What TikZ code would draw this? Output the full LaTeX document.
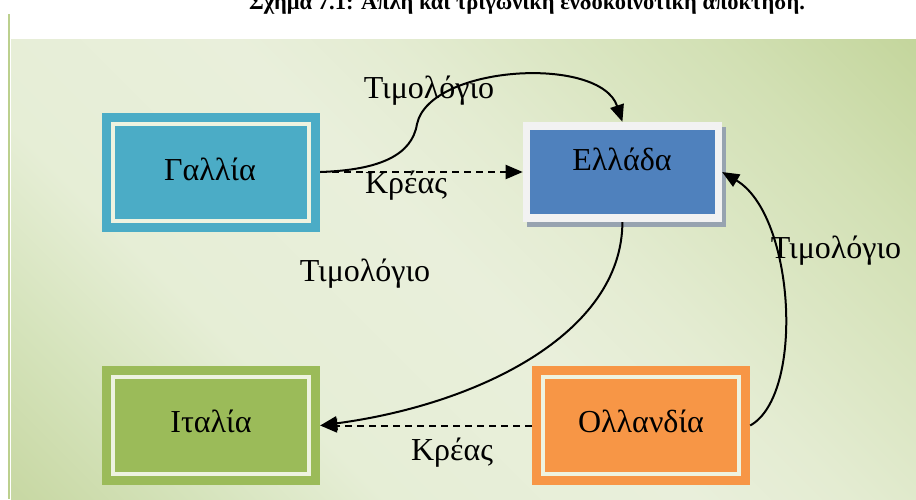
\documentclass[tikz,border=0pt]{standalone}
\usepackage{fontspec}
\setmainfont{Liberation Serif}
\usetikzlibrary{arrows.meta}
\definecolor{aquafill}{HTML}{4BACC6}
\definecolor{greenfill}{HTML}{9BBB59}
\definecolor{orangefill}{HTML}{F79646}
\definecolor{bluefill}{HTML}{4F81BD}
\definecolor{framewhite}{HTML}{F2F2F2}
\definecolor{innerline}{HTML}{EEF3E0}
\definecolor{shadowgray}{HTML}{97A3B0}
\definecolor{bga}{HTML}{C8D8A4}
\definecolor{bgb}{HTML}{D5E3BB}
\definecolor{bgc}{HTML}{E6EED6}
\definecolor{bgd}{HTML}{E9EFDB}
\definecolor{bge}{HTML}{E4ECD2}
\definecolor{bgf}{HTML}{D2E0B4}
\definecolor{bgg}{HTML}{C3D59B}
\definecolor{leftline}{HTML}{BCD08E}
\pgfdeclarehorizontalshading{bgshade}{100bp}{color(0bp)=(bga); color(15bp)=(bga); color(24bp)=(bgb); color(34bp)=(bgc); color(50bp)=(bgd); color(58bp)=(bge); color(75bp)=(bgf); color(86bp)=(bgg); color(100bp)=(bgg)}
\begin{document}
\begin{tikzpicture}[x=1pt,y=-1pt,
  country/.style={fill=#1, draw=none, minimum width=218pt, minimum height=119pt, inner sep=0pt,
    path picture={\draw[line width=4pt, innerline]
      ([xshift=11pt,yshift=-11pt]path picture bounding box.north west) rectangle
      ([xshift=-11pt,yshift=11pt]path picture bounding box.south east);}},
  framed/.style={fill=framewhite, draw=none, minimum width=199pt, minimum height=100pt, inner sep=0pt,
    preaction={fill=shadowgray, transform canvas={xshift=4pt,yshift=-5pt}},
    path picture={\fill[bluefill]
      ([xshift=7.5pt,yshift=-7.5pt]path picture bounding box.north west) rectangle
      ([xshift=-7pt,yshift=8pt]path picture bounding box.south east);}},
  boxtext/.style={anchor=base, inner sep=0pt, font=\fontsize{32}{36}\selectfont},
  lbl/.style={anchor=base, inner sep=0pt, font=\fontsize{32}{36}\selectfont},
  link/.style={line width=2pt, -{Triangle[length=17pt,width=14pt]}},
  dashlink/.style={link, dash pattern=on 7pt off 5pt}]
\useasboundingbox (0,0) rectangle (916,499);
\shade[shading=bgshade, shading angle=45] (11,39) rectangle (916,499);
\draw[line width=2.5pt, leftline] (9.2,14) -- (9.2,499);

\node[font=\bfseries\fontsize{22.5}{26}\selectfont, anchor=base, inner sep=0pt] (title) at (527,9.5)
  {Σχήμα 7.1: Απλή και τριγωνική ενδοκοινοτική απόκτηση.};

\node[country=aquafill] (gallia) at (211,172) {};
\node[country=greenfill] (italia) at (211,425.5) {};
\node[country=orangefill] (ollandia) at (641,425.5) {};
\node[framed] (ellada) at (622.4,172) {};

\node[boxtext] (gallia-t) at (210,180) {Γαλλία};
\node[boxtext] (ellada-t) at (622,170) {Ελλάδα};
\node[boxtext] (italia-t) at (211,432) {Ιταλία};
\node[boxtext] (ollandia-t) at (641,432) {Ολλανδία};

\coordinate (bend) at (417,124);
\draw[link] (gallia.east) .. controls (380,170) and (412,155) .. (bend)
  .. controls (430,65) and (600,55) .. (ellada.north);
\draw[dashlink] (gallia.east) -- (ellada.west);
\draw[link] (ellada.south) .. controls (622,335) and (475,405) .. (italia.east);
\draw[dashlink] (ollandia.west) -- (italia.east);
\draw[link] (ollandia.east) .. controls (805,395) and (795,215) .. (ellada.east);

\node[lbl] (inv1) at (429,98) {Τιμολόγιο};
\node[lbl] (meat1) at (406,193) {Κρέας};
\node[lbl] (inv2) at (365,281) {Τιμολόγιο};
\node[lbl] (meat2) at (452,460) {Κρέας};
\node[lbl] (inv3) at (836,258) {Τιμολόγιο};
\end{tikzpicture}
\end{document}
